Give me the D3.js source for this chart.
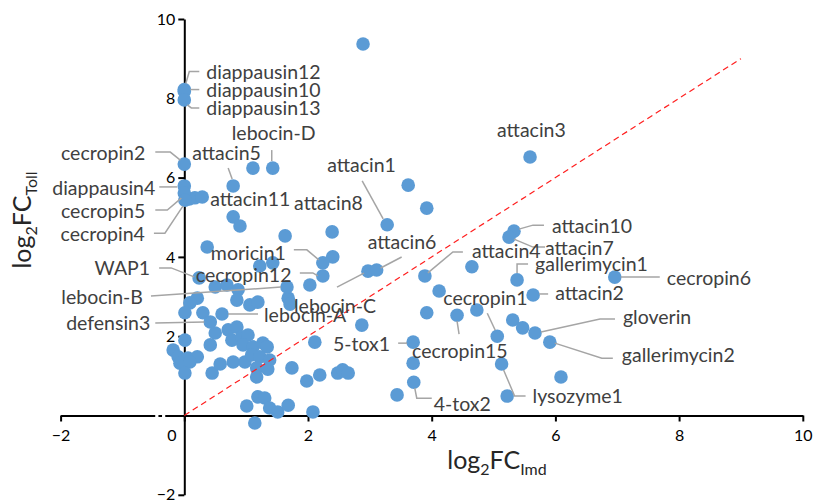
<!DOCTYPE html>
<html>
<head>
<meta charset="utf-8">
<script src="https://cdn.jsdelivr.net/npm/d3@7/dist/d3.min.js"></script>
<style>
  html, body { margin: 0; padding: 0; background: #fff; }
  svg { display: block; font-family: Lato, "Open Sans", sans-serif; }
</style>
</head>
<body>
<svg id="chart" width="814" height="502"></svg>
<script>
// Axis ticks (log2 fold change)
const xTicks = [-2, 0, 2, 4, 6, 8, 10];
const yTicks = [-2, 0, 2, 4, 6, 8, 10];

// Named antimicrobial peptide genes: log2FC in Imd (x) and Toll (y)
const genes = ["diappausin12", "diappausin10", "diappausin13", "cecropin2", "attacin5", "lebocin-D",
  "diappausin4", "cecropin5", "cecropin4", "attacin11", "attacin1", "attacin8", "moricin1",
  "cecropin12", "WAP1", "lebocin-B", "lebocin-C", "attacin6", "lebocin-A", "defensin3",
  "attacin3", "attacin10", "attacin7", "attacin4", "gallerimycin1", "cecropin6", "attacin2",
  "cecropin1", "cecropin15", "gloverin", "gallerimycin2", "5-tox1", "4-tox2", "lysozyme1"];
const geneImd = [0.00, 0.00, 0.00, 0.00, 0.79, 1.43,
  0.00, 0.00, 0.01, 0.29, 3.28, 2.39, 2.24,
  2.24, 0.24, 1.66, 2.97, 3.11, 0.61, 0.42,
  5.59, 5.33, 5.25, 3.89, 5.38, 6.96, 5.64,
  5.06, 4.41, 5.67, 5.91, 3.70, 3.71, 5.13];
const geneToll = [8.22, 8.17, 7.96, 6.34, 5.79, 6.24,
  5.79, 5.61, 5.43, 5.51, 4.81, 4.63, 3.85,
  3.52, 3.47, 3.24, 3.64, 3.67, 2.56, 2.36,
  6.52, 4.65, 4.50, 3.52, 3.42, 3.49, 3.04,
  2.00, 2.53, 2.08, 1.85, 1.85, 0.84, 1.30];

// Other genes without a name label
const otherImd = [2.89, 1.11, 0.17, 0.08, 0.79, 0.90, 1.63, 3.62, 3.92, 0.37,
  1.22, 1.43, 2.40, 0.50, 0.69, 0.87, 2.03, 0.85, 1.06, 1.19,
  1.68, 1.71, 0.21, 0.09, 0.01, 0.30, 0.50, 0.71, 0.85, 0.77,
  0.93, 1.03, 0.95, 1.11, 1.27, 1.34, 0.42, 0.01, -0.18, -0.10,
  0.06, 0.21, -0.07, 0.09, 0.01, 0.45, 0.58, 0.79, 0.98, 1.09,
  1.22, 1.38, 1.17, 1.17, 1.35, 1.74, 2.11, 1.98, 2.19, 2.48,
  2.56, 2.65, 2.87, 1.01, 1.19, 1.30, 1.38, 1.51, 1.68, 2.08,
  1.14, 4.65, 4.12, 3.92, 4.73, 5.31, 5.47, 6.09, 5.22, 3.70,
  3.44];
const otherToll = [9.37, 6.24, 5.49, 5.46, 5.01, 4.78, 4.53, 5.81, 5.23, 4.25,
  3.77, 3.85, 4.00, 3.24, 3.29, 3.17, 3.29, 2.91, 2.79, 2.86,
  2.96, 2.81, 2.96, 2.84, 2.59, 2.59, 2.08, 2.16, 2.23, 1.90,
  1.98, 2.03, 1.78, 1.73, 1.83, 1.73, 1.78, 1.90, 1.65, 1.48,
  1.45, 1.48, 1.32, 1.35, 1.07, 1.07, 1.30, 1.35, 1.35, 1.53,
  1.48, 1.40, 1.20, 0.97, 1.17, 1.20, 1.85, 0.87, 1.02, 1.07,
  1.15, 1.07, 2.28, 0.24, 0.47, 0.44, 0.19, 0.09, 0.26, 0.09,
  -0.19, 3.75, 3.14, 2.59, 2.66, 2.41, 2.21, 0.97, 0.49, 1.32,
  0.52];

// Reference diagonal y = x
const diagonal = [0, 9];

// Label placement relative to each named point (px): text offset, anchor, leader path
const labelLayout = {
  "diappausin12": { dx: 22, dy: -18, a: "start", path: [[15, -18], [5, -18], [1.5, -6]] },
  "diappausin10": { dx: 22, dy: -2, a: "start", path: [[15, -2], [6, -2]] },
  "diappausin13": { dx: 22, dy: 8, a: "start", path: [[15, 8], [7, 8], [3, 5]] },
  "cecropin2": { dx: -39, dy: -12, a: "end", path: [[-29, -12], [-14, -12], [-4, -4]] },
  "attacin5": { dx: -41, dy: -33, a: "start", path: [[-5, -18], [-1, -7]] },
  "lebocin-D": { dx: -41, dy: -36, a: "start", path: [[-1, -18], [-1, -7]] },
  "diappausin4": { dx: -29, dy: 2, a: "end", path: [[-25, 1], [-7, 1]] },
  "cecropin5": { dx: -39, dy: 17, a: "end", path: [[-29, 17], [-17, 17], [-3, 5]] },
  "cecropin4": { dx: -40, dy: 33, a: "end", path: [[-31, 33], [-20, 33], [-2, 6]] },
  "attacin11": { dx: 8, dy: 1, a: "start", path: [] },
  "attacin1": { dx: -60, dy: -60, a: "start", path: [[-25, -44], [-4, -6]] },
  "attacin8": { dx: -38, dy: -29, a: "start", path: [] },
  "moricin1": { dx: -112, dy: -10, a: "start", path: [[-29, -13], [-16, -13], [-4, -3]] },
  "cecropin12": { dx: -127, dy: -1, a: "start", path: [[-23, -3], [-10, -3], [-5, 0]] },
  "WAP1": { dx: -49, dy: -10, a: "end", path: [[-40, -10], [-28, -10], [-5, -1]] },
  "lebocin-B": { dx: -144, dy: 9, a: "end", path: [[-136, 9], [-6, 0]] },
  "lebocin-C": { dx: -74, dy: 34, a: "start", path: [[-31, 16], [-4, 2]] },
  "attacin6": { dx: -9, dy: -28, a: "start", path: [[25, -13], [4, -2]] },
  "lebocin-A": { dx: 42, dy: 1, a: "start", path: [[36, 0], [6, 0]] },
  "defensin3": { dx: -60, dy: 1, a: "end", path: [[-55, 1], [-6, 0]] },
  "attacin3": { dx: -33, dy: -27, a: "start", path: [] },
  "attacin10": { dx: 38, dy: -6, a: "start", path: [[30, -6], [19, -6], [5, -2]] },
  "attacin7": { dx: 36, dy: 10, a: "start", path: [[36, 10], [24, 10], [5, 2]] },
  "attacin4": { dx: 47, dy: -25, a: "start", path: [[38, -24], [28, -24], [3, -3]] },
  "gallerimycin1": { dx: 18, dy: -16, a: "start", path: [[11, -16], [0, -16], [0, -7]] },
  "cecropin6": { dx: 52, dy: 0, a: "start", path: [[45, 0], [6, 0]] },
  "attacin2": { dx: 22, dy: -2, a: "start", path: [[15, -1], [6, -1]] },
  "cecropin1": { dx: -54, dy: -39, a: "start", path: [[-10, -23], [-2, -6]] },
  "cecropin15": { dx: -45, dy: 35, a: "start", path: [[2, 19], [0, 6]] },
  "gloverin": { dx: 88, dy: -17, a: "start", path: [[80, -14], [65, -14], [6, -1]] },
  "gallerimycin2": { dx: 72, dy: 12, a: "start", path: [[63, 16], [52, 16], [5, 1]] },
  "5-tox1": { dx: -23, dy: 1, a: "end", path: [[-15, 1], [-6, 1]] },
  "4-tox2": { dx: 20, dy: 21, a: "start", path: [[18, 16], [3, 16], [1, 6]] },
  "lysozyme1": { dx: 31, dy: 32, a: "start", path: [[24, 32], [13, 32], [2, 6]] }
};

const svg = d3.select("#chart");
const x = d3.scaleLinear().domain([-2, 10]).range([60.6, 802.8]);
const y = d3.scaleLinear().domain([-2, 10]).range([494.8, 19]);

const TEXT = "#404040";
const BLUE = "#5b9bd5";
const R = 6.8;

// Axes crossing at the origin
const xAxis = svg.append("g")
  .attr("transform", `translate(0,${y(0)})`)
  .call(d3.axisBottom(x).tickValues(xTicks).tickSize(6).tickSizeOuter(0).tickPadding(8)
    .tickFormat(d3.format("d")));
const yAxis = svg.append("g")
  .attr("transform", `translate(${x(0)},0)`)
  .call(d3.axisLeft(y).tickValues(yTicks.filter(d => d !== 0)).tickSize(6).tickSizeOuter(0)
    .tickPadding(3).tickFormat(d3.format("d")));

[xAxis, yAxis].forEach(g => {
  g.select(".domain").attr("stroke", "#000").attr("stroke-width", 2);
  g.selectAll(".tick line").attr("stroke", "#000").attr("stroke-width", 2);
  g.selectAll(".tick text").attr("fill", "#000").attr("font-size", 16)
    .attr("font-family", "Lato, sans-serif");
});
// the zero label on the x axis sits left of the vertical axis
xAxis.selectAll(".tick").filter(d => d === 0).select("text").attr("dx", -13);

// small break in the horizontal axis line
svg.append("g").selectAll("rect").data([-0.47, -0.36]).join("rect")
  .attr("x", d => x(d)).attr("y", y(0) - 2).attr("width", 3.2).attr("height", 4)
  .attr("fill", "#fff");

// points
const others = otherImd.map((v, i) => ({ x: v, y: otherToll[i] }));
const named = genes.map((g, i) => ({ name: g, x: geneImd[i], y: geneToll[i] }));
svg.append("g").selectAll("circle").data(others.concat(named)).join("circle")
  .attr("cx", d => x(d.x)).attr("cy", d => y(d.y)).attr("r", R)
  .attr("fill", BLUE);

// y = x reference line
svg.append("line")
  .attr("x1", x(diagonal[0])).attr("y1", y(diagonal[0]))
  .attr("x2", x(diagonal[1])).attr("y2", y(diagonal[1]))
  .attr("stroke", "#ff1f1f").attr("stroke-width", 1.2).attr("stroke-dasharray", "6,4");

// leader lines and labels
const lg = svg.append("g");
named.forEach(d => {
  const L = labelLayout[d.name];
  const px = x(d.x), py = y(d.y);
  if (L.path.length) {
    lg.append("path")
      .attr("d", d3.line()(L.path.map(p => [px + p[0], py + p[1]])))
      .attr("fill", "none").attr("stroke", "#a5a5a5").attr("stroke-width", 1.5);
  }
  lg.append("text")
    .attr("x", px + L.dx).attr("y", py + L.dy)
    .attr("text-anchor", L.a).attr("dominant-baseline", "central")
    .attr("font-size", 19.5).attr("fill", TEXT)
    .text(d.name);
});

// axis titles
const xt = svg.append("text").attr("x", 497).attr("y", 469).attr("text-anchor", "middle")
  .attr("font-size", 25).attr("fill", "#262626");
xt.append("tspan").text("log");
xt.append("tspan").attr("font-size", 16).attr("dy", 6).text("2");
xt.append("tspan").attr("dy", -6).text("FC");
xt.append("tspan").attr("font-size", 16).attr("dy", 6).text("Imd");

const yt = svg.append("text").attr("transform", "translate(31,220) rotate(-90)")
  .attr("text-anchor", "middle").attr("font-size", 25).attr("fill", "#262626");
yt.append("tspan").text("log");
yt.append("tspan").attr("font-size", 16).attr("dy", 6).text("2");
yt.append("tspan").attr("dy", -6).text("FC");
yt.append("tspan").attr("font-size", 16).attr("dy", 6).text("Toll");
</script>
</body>
</html>
